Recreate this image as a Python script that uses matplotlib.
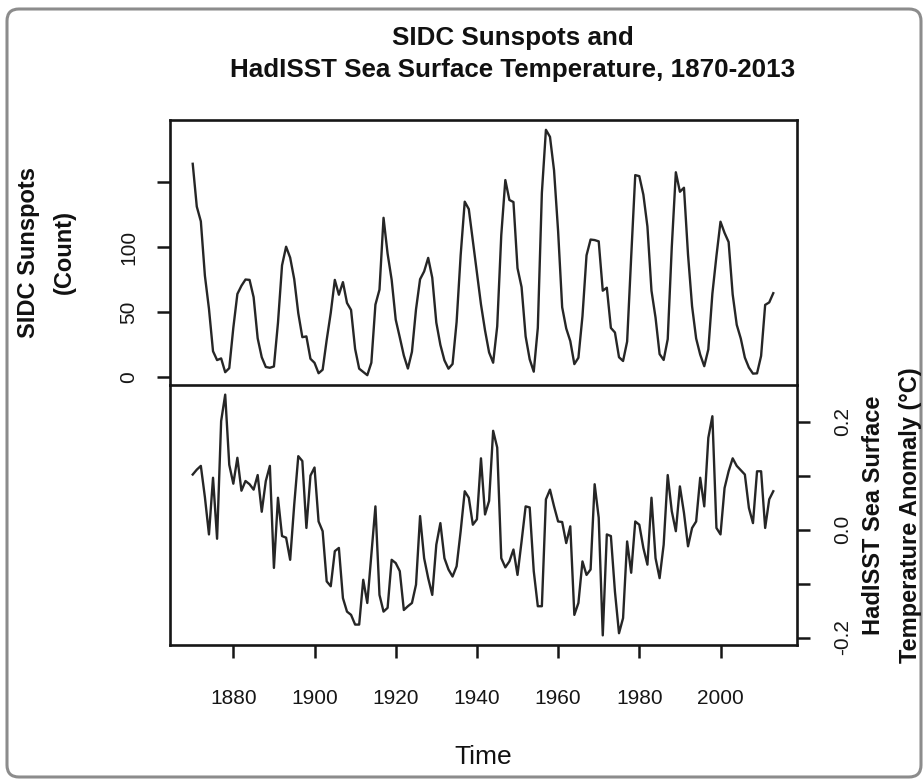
import matplotlib
matplotlib.use("Agg")
import matplotlib.pyplot as plt
import numpy as np
from matplotlib.patches import FancyBboxPatch
from matplotlib.transforms import IdentityTransform

# Annual values, 1870-2013
years = np.arange(1870, 2014)

sunspots = [
    164.1, 131.2, 119.9, 78.1, 52.7, 20.1, 13.3, 14.6, 4.0, 7.1,
    38.1, 64.1, 70.4, 75.2, 74.9, 61.6, 30.0, 15.5, 8.0, 7.4,
    8.4, 42.0, 86.1, 100.4, 92.0, 75.5, 49.3, 30.9, 31.5, 14.3,
    11.2, 3.2, 5.9, 28.8, 49.6, 74.9, 63.5, 73.2, 57.2, 51.8,
    21.9, 6.7, 4.2, 1.7, 11.3, 55.9, 67.4, 122.6, 95.1, 75.0,
    44.4, 30.8, 16.8, 6.8, 19.7, 52.3, 75.4, 81.4, 91.8, 76.6,
    42.1, 25.0, 13.1, 6.7, 10.3, 42.6, 94.0, 135.0, 129.3, 104.8,
    80.0, 56.1, 36.1, 19.2, 11.3, 39.2, 109.3, 151.6, 136.3, 134.7,
    83.9, 69.4, 31.5, 13.9, 4.4, 38.0, 141.7, 190.2, 184.8, 159.0,
    112.3, 53.9, 37.6, 27.9, 10.2, 15.1, 47.0, 93.8, 105.9, 105.5,
    104.5, 66.6, 68.9, 38.0, 34.5, 15.5, 12.6, 27.5, 92.5, 155.4,
    154.6, 140.4, 115.9, 66.6, 45.9, 17.9, 13.4, 29.4, 100.2, 157.6,
    142.6, 145.7, 94.3, 54.6, 29.9, 17.5, 8.6, 21.5, 64.3, 93.3,
    119.6, 111.0, 104.0, 63.7, 40.4, 29.8, 15.2, 7.5, 2.9, 3.1,
    16.5, 55.7, 57.6, 64.7,
]

sst_anom = [
    0.102, 0.111, 0.118, 0.060, -0.009, 0.096, -0.017, 0.201, 0.250, 0.120,
    0.085, 0.133, 0.072, 0.090, 0.084, 0.074, 0.101, 0.033, 0.090, 0.118,
    -0.071, 0.059, -0.012, -0.015, -0.056, 0.046, 0.136, 0.127, 0.003, 0.100,
    0.115, 0.015, -0.003, -0.096, -0.105, -0.040, -0.034, -0.127, -0.152, -0.158,
    -0.176, -0.176, -0.093, -0.136, -0.046, 0.043, -0.121, -0.152, -0.145, -0.056,
    -0.062, -0.077, -0.149, -0.142, -0.136, -0.102, 0.025, -0.053, -0.090, -0.121,
    -0.028, 0.012, -0.053, -0.074, -0.087, -0.068, -0.003, 0.071, 0.059, 0.009,
    0.019, 0.132, 0.028, 0.053, 0.183, 0.152, -0.053, -0.070, -0.059, -0.037,
    -0.084, -0.022, 0.043, 0.041, -0.077, -0.142, -0.142, 0.056, 0.074, 0.043,
    0.015, 0.014, -0.025, 0.006, -0.158, -0.136, -0.059, -0.084, -0.074, 0.084,
    0.022, -0.196, -0.009, -0.012, -0.115, -0.192, -0.164, -0.022, -0.080, 0.015,
    0.009, -0.034, -0.065, 0.059, -0.053, -0.090, -0.028, 0.101, 0.034, -0.003,
    0.080, 0.031, -0.031, 0.003, 0.015, 0.096, 0.043, 0.170, 0.210, 0.003,
    -0.009, 0.077, 0.108, 0.132, 0.118, 0.110, 0.102, 0.040, 0.012, 0.108,
    0.108, 0.003, 0.056, 0.071,
]

x_ticks = [1880, 1900, 1920, 1940, 1960, 1980, 2000]
spot_ticks = [0, 50, 100, 150]
spot_labels = ["0", "50", "100", ""]
sst_ticks = [-0.2, -0.1, 0.0, 0.1, 0.2]
sst_labels = ["-0.2", "", "0.0", "", "0.2"]

W, H = 924, 780
LINE = "#262626"
FRAME = "#161616"

plt.rcParams["font.family"] = "Liberation Sans"


def px_rect(left, top, right, bottom):
    return [left / W, 1 - bottom / H, (right - left) / W, (bottom - top) / H]


def padded(vals, frac=0.04):
    lo, hi = min(vals), max(vals)
    pad = (hi - lo) * frac
    return lo - pad, hi + pad


fig = plt.figure(figsize=(W / 100, H / 100), dpi=100)
fig.patch.set_facecolor("white")

ax2 = fig.add_axes(px_rect(169.5, 385, 796.5, 645))
ax1 = fig.add_axes(px_rect(169.5, 120, 796.5, 385), sharex=ax2)
ax1.set_facecolor("none")
ax2.set_facecolor("none")

xlim = padded(list(years))

# top panel: sunspots
ax1.plot(years, sunspots, color=LINE, lw=1.7)
ax1.set_xlim(xlim)
ax1.set_ylim(padded(sunspots))
ax1.set_yticks(spot_ticks)
ax1.set_yticklabels(spot_labels, rotation=90, va="center")
ax1.tick_params(axis="y", direction="out", length=9.5, width=1.8,
                labelsize=15, pad=13, colors=FRAME)
ax1.tick_params(axis="x", bottom=False, labelbottom=False)

# bottom panel: sea surface temperature
ax2.plot(years, sst_anom, color=LINE, lw=1.7)
ax2.set_ylim(padded(sst_anom))
ax2.yaxis.tick_right()
ax2.set_yticks(sst_ticks)
ax2.set_yticklabels(sst_labels, rotation=90, va="center")
ax2.tick_params(axis="y", direction="out", length=9.5, width=1.8,
                labelsize=15, pad=17, colors=FRAME)
ax2.set_xticks(x_ticks)
ax2.tick_params(axis="x", direction="out", length=9.5, width=1.8,
                labelsize=15, pad=22, colors=FRAME)

for ax in (ax1, ax2):
    for sp in ax.spines.values():
        sp.set_linewidth(1.9)
        sp.set_color(FRAME)
ax2.spines["top"].set_visible(False)


def ftext(x, y, s, **kw):
    fig.text(x / W, 1 - y / H, s, ha="center", va="center", color="#111111", **kw)


ftext(513, 38, "SIDC Sunspots and", fontsize=18.7, fontweight="bold")
ftext(513, 70, "HadISST Sea Surface Temperature, 1870-2013", fontsize=18.7,
      fontweight="bold")
ftext(483, 757, "Time", fontsize=19)
ftext(29, 252, "SIDC Sunspots", fontsize=17, fontweight="bold", rotation=90)
ftext(64, 252, "(Count)", fontsize=17, fontweight="bold", rotation=90)
ftext(873, 515, "HadISST Sea Surface", fontsize=17, fontweight="bold", rotation=90)
ftext(910, 515, "Temperature Anomaly (°C)", fontsize=17, fontweight="bold", rotation=90)

# rounded grey frame around the whole picture
frame = FancyBboxPatch((7, 3), 914, 768, boxstyle="round,pad=0,rounding_size=12",
                       transform=IdentityTransform(), facecolor="none",
                       edgecolor="#8c8c8c", lw=2.2)
fig.patches.append(frame)

fig.savefig("out.png", dpi=100)
